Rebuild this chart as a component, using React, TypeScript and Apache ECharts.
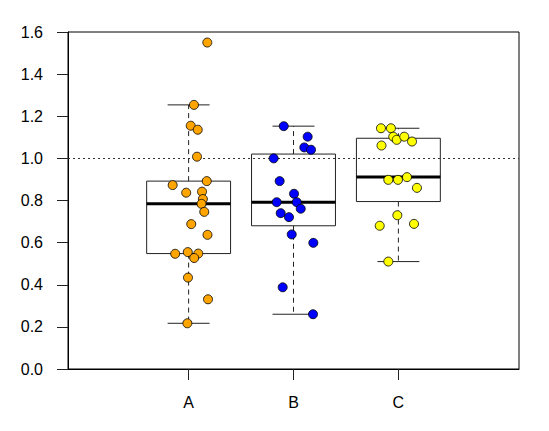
import React, { useEffect, useRef } from "react";
import * as echarts from "echarts";

const categories = ["A", "B", "C"];
const yTicks = [0, 0.2, 0.4, 0.6, 0.8, 1.0, 1.2, 1.4, 1.6];
const refLine = 1.0;

const valuesA = [1.55, 1.254, 1.155, 1.136, 1.008, 0.892, 0.873, 0.837, 0.842, 0.807, 0.784, 0.746, 0.688, 0.637, 0.547, 0.555, 0.548, 0.527, 0.434, 0.331, 0.217];
const jitterA = [0.178, 0.051, 0.02, 0.087, 0.08, 0.173, -0.152, -0.023, 0.128, 0.136, 0.123, 0.149, 0.025, 0.18, -0.128, -0.008, 0.092, 0.053, -0.006, 0.185, -0.012];

const valuesB = [1.153, 1.103, 1.052, 1.041, 1.0, 0.892, 0.832, 0.792, 0.792, 0.761, 0.74, 0.721, 0.639, 0.599, 0.388, 0.26];
const jitterB = [-0.093, 0.135, 0.103, 0.167, -0.189, -0.132, 0.005, -0.16, 0.031, 0.069, -0.122, -0.043, -0.017, 0.189, -0.103, 0.186];

const valuesC = [1.143, 1.143, 1.103, 1.088, 1.103, 1.08, 1.061, 0.898, 0.898, 0.911, 0.86, 0.73, 0.689, 0.68, 0.51];
const jitterC = [-0.166, -0.071, -0.049, -0.016, 0.056, 0.13, -0.161, -0.096, -0.004, 0.082, 0.177, -0.01, 0.149, -0.178, -0.096];

const colors = ["#FFA500", "#0000FF", "#FFFF00"];

const groups = [
  { values: valuesA, jitter: jitterA },
  { values: valuesB, jitter: jitterB },
  { values: valuesC, jitter: jitterC },
];

function fivenum(x: number[]) {
  const s = [...x].sort((a, b) => a - b);
  const n = s.length;
  const n4 = Math.floor((n + 3) / 2) / 2;
  const d = [1, n4, (n + 1) / 2, n + 1 - n4, n];
  return d.map((di) => 0.5 * (s[Math.floor(di) - 1] + s[Math.ceil(di) - 1]));
}

function boxStats(x: number[]) {
  const s = [...x].sort((a, b) => a - b);
  const f = fivenum(x);
  const iqr = f[3] - f[1];
  const lo = s.filter((v) => v >= f[1] - 1.5 * iqr)[0];
  const hiArr = s.filter((v) => v <= f[3] + 1.5 * iqr);
  const hi = hiArr[hiArr.length - 1];
  return [lo, f[1], f[2], f[3], hi];
}

const FONT = "'Liberation Sans', Arial, sans-serif";

export default function App() {
  const ref = useRef<HTMLDivElement>(null);
  useEffect(() => {
    if (!ref.current) return;
    const chart = echarts.init(ref.current, null, { renderer: "svg" });

    const boxData = groups.map((g, i) => [i + 1, ...boxStats(g.values)]);

    const scatterSeries = groups.map((g, i) => ({
      type: "scatter",
      name: categories[i],
      symbol: "circle",
      symbolSize: 9,
      z: 5,
      itemStyle: { color: colors[i], borderColor: "#000", borderWidth: 0.8, opacity: 1 },
      data: g.values.map((v, j) => [i + 1 + g.jitter[j], v]),
    }));

    const option: any = {
      animation: false,
      backgroundColor: "#fff",
      grid: {
        left: 68,
        right: 30,
        top: 32,
        bottom: 62,
        show: true,
        borderColor: "#000",
        borderWidth: 1,
        backgroundColor: "transparent",
      },
      xAxis: {
        type: "value",
        min: -0.15,
        max: 4.15,
        splitLine: { show: false },
        axisLine: { show: true, onZero: false, lineStyle: { color: "#000", width: 1 } },
        axisTick: { show: true, length: 11, customValues: [1, 2, 3], lineStyle: { color: "#222", width: 1 } },
        axisLabel: {
          customValues: [1, 2, 3],
          formatter: (v: number) => categories[Math.round(v) - 1] ?? "",
          margin: 25,
          fontSize: 16,
          fontFamily: FONT,
          color: "#000",
        },
      },
      yAxis: {
        type: "value",
        min: 0,
        max: 1.6,
        interval: 0.2,
        splitLine: { show: false },
        axisLine: { show: true, onZero: false, lineStyle: { color: "#000", width: 1 } },
        axisTick: { show: true, length: 11, lineStyle: { color: "#222", width: 1 } },
        axisLabel: {
          formatter: (v: number) => v.toFixed(1),
          margin: 25,
          fontSize: 16,
          fontFamily: FONT,
          color: "#000",
          customValues: yTicks,
        },
      },
      series: [
        {
          type: "custom",
          z: 2,
          encode: { x: 0, y: [1, 2, 3, 4, 5] },
          data: boxData,
          renderItem: (params: any, api: any) => {
            const x = api.value(0);
            const lo = api.value(1);
            const q1 = api.value(2);
            const med = api.value(3);
            const q3 = api.value(4);
            const hi = api.value(5);
            const hw = 0.4;
            const cw = 0.2;
            const pLoL = api.coord([x - hw, q1]);
            const pHiR = api.coord([x + hw, q3]);
            const c = (xx: number, yy: number) => api.coord([xx, yy]);
            const stroke = "#222";
            const line = (a: number[], b: number[], style: any) => ({
              type: "line",
              shape: { x1: a[0], y1: a[1], x2: b[0], y2: b[1] },
              style: { stroke, lineWidth: 1, ...style },
            });
            return {
              type: "group",
              children: [
                line(c(x, q3), c(x, hi), { lineDash: [5, 4] }),
                line(c(x, q1), c(x, lo), { lineDash: [5, 4] }),
                line(c(x - cw, hi), c(x + cw, hi), {}),
                line(c(x - cw, lo), c(x + cw, lo), {}),
                {
                  type: "rect",
                  shape: {
                    x: pLoL[0],
                    y: pHiR[1],
                    width: pHiR[0] - pLoL[0],
                    height: pLoL[1] - pHiR[1],
                  },
                  style: { fill: "none", stroke, lineWidth: 1 },
                },
                line(c(x - hw, med), c(x + hw, med), { stroke: "#000", lineWidth: 3 }),
              ],
            };
          },
          markLine: {
            silent: true,
            symbol: "none",
            label: { show: false },
            lineStyle: { color: "#333", type: [2, 3], width: 1 },
            data: [{ yAxis: refLine }],
          },
        },
        ...scatterSeries,
      ],
    };
    chart.setOption(option);
    return () => chart.dispose();
  }, []);
  return (
    <div
      ref={ref}
      style={{ position: "fixed", left: 0, top: 0, width: 549, height: 431, background: "#fff" }}
    />
  );
}
